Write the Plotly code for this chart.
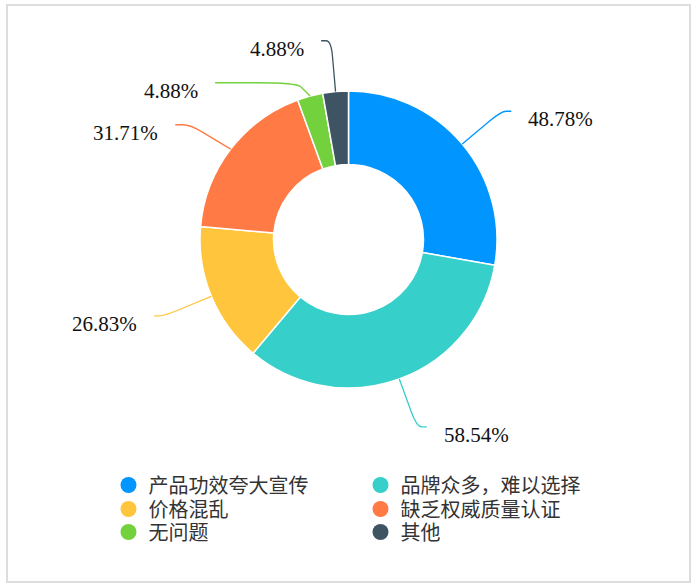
import math
import plotly.graph_objects as go

# data
labels = ["产品功效夸大宣传", "品牌众多，难以选择", "价格混乱", "缺乏权威质量认证", "无问题", "其他"]
values = [48.78, 58.54, 26.83, 31.71, 4.88, 4.88]
colors = ["#0095FF", "#36CFC9", "#FFC53D", "#FF7A45", "#73D13D", "#3E5462"]

W, H = 700, 587
CX, CY, R = 348.5, 239.5, 148.5      # donut centre / outer radius in px
LEN1, LEN2, GAP, MIN_DY = 51, 10, 15, 42
LEGEND_ROWS = [485, 509, 532]        # px centre of each legend row
SERIF = "Liberation Serif, Times New Roman, serif"


def label_layout():
    """echarts-like outside labels: radial leg, horizontal leg, overlap push."""
    total = sum(values)
    items, acc = [], 0.0
    for v, c in zip(values, colors):
        ang = math.radians((acc + v / 2) / total * 360)
        acc += v
        s, co = math.sin(ang), math.cos(ang)
        items.append(dict(v=v, c=c, side=1 if s >= 0 else -1,
                          p0=(CX + R * s, CY - R * co),
                          ex=CX + (R + LEN1) * s, y=CY - (R + LEN1) * co))
    for side in (1, -1):
        grp = sorted([it for it in items if it["side"] == side], key=lambda it: it["y"])
        for a, b in zip(grp, grp[1:]):
            if b["y"] - a["y"] < MIN_DY:
                b["y"] = a["y"] + MIN_DY
    r1 = R + LEN1
    for it in items:
        dy = abs(it["y"] - CY)
        dx = math.sqrt(max(r1 * r1 - dy * dy, 0))
        it["end"] = CX + it["side"] * (dx + LEN2)
    return items


fig = go.Figure()
fig.add_trace(go.Pie(
    labels=labels, values=values, sort=False, direction="clockwise", rotation=0,
    hole=0.505, textinfo="none", showlegend=False,
    marker=dict(colors=colors, line=dict(color="white", width=1.5)),
    domain=dict(x=[(CX - R) / W, (CX + R) / W], y=[1 - (CY + R) / H, 1 - (CY - R) / H]),
))
# legend entries: two per row, one legend per row
legend_names = ["legend", "legend2", "legend3"]
for i, (lab, c) in enumerate(zip(labels, colors)):
    fig.add_trace(go.Scatter(x=[None], y=[None], mode="markers", name=lab,
                             legend=legend_names[i // 2],
                             marker=dict(size=20, color=c, symbol="circle")))

shapes, annos = [], []
for it in label_layout():
    x0, y0 = it["p0"]
    ex, ey, end = it["ex"], it["y"], it["end"]
    ax, ay = ex - 0.3 * (ex - x0), ey - 0.3 * (ey - y0)
    bx = ex + 0.5 * (end - ex)
    shapes.append(dict(type="path", xref="x", yref="y",
                       path=f"M{x0},{y0} L{ax},{ay} Q{ex},{ey} {bx},{ey} L{end},{ey}",
                       line=dict(color=it["c"], width=1.3)))
    annos.append(dict(xref="x", yref="y", x=end + it["side"] * GAP, y=ey, yshift=-8,
                      text=f"{it['v']:.2f}%", showarrow=False,
                      xanchor="left" if it["side"] > 0 else "right", yanchor="middle",
                      font=dict(family=SERIF, size=21, color="#111")))

shapes.append(dict(type="rect", xref="x", yref="y", x0=7, y0=5, x1=690, y1=582,
                   line=dict(color="#DDDDDD", width=2), layer="below"))

legend_style = dict(orientation="h", x=0.155, xanchor="left", yanchor="middle",
                    entrywidth=207, itemsizing="trace", bgcolor="rgba(0,0,0,0)",
                    font=dict(family="Noto Sans CJK SC", size=20, color="#333"))
fig.update_layout(
    width=W, height=H, margin=dict(l=0, r=0, t=0, b=0),
    paper_bgcolor="white", plot_bgcolor="white",
    xaxis=dict(range=[0, W], visible=False, fixedrange=True),
    yaxis=dict(range=[H, 0], visible=False, fixedrange=True),
    shapes=shapes, annotations=annos,
    **{name: dict(legend_style, y=1 - row / H) for name, row in zip(legend_names, LEGEND_ROWS)},
)
fig.write_html("out.html", config={"displayModeBar": False},
               post_script="document.body.style.margin='0';")
